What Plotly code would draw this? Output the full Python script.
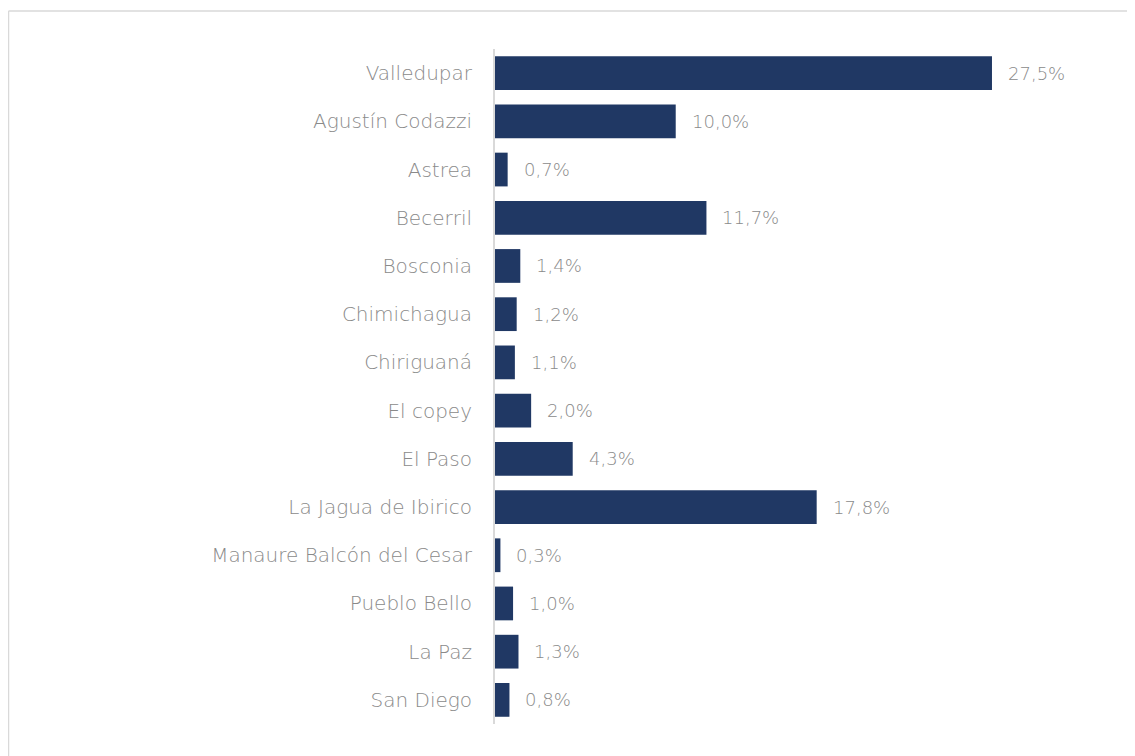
import plotly.graph_objects as go

categories = ["Valledupar", "Agustín Codazzi", "Astrea", "Becerril", "Bosconia",
              "Chimichagua", "Chiriguaná", "El copey", "El Paso", "La Jagua de Ibirico",
              "Manaure Balcón del Cesar", "Pueblo Bello", "La Paz", "San Diego"]
values = [27.5, 10.0, 0.7, 11.7, 1.4, 1.2, 1.1, 2.0, 4.3, 17.8, 0.3, 1.0, 1.3, 0.8]
value_labels = [f"{v:.1f}%".replace(".", ",") for v in values]

BAR = "#203864"
GRAY = "#8a8a8a"
FONT = "DejaVu Sans"

fig = go.Figure()
fig.add_trace(go.Bar(
    x=values, y=categories, orientation="h",
    marker=dict(color=BAR, line=dict(width=0)),
    width=0.7, hoverinfo="skip",
))

for c, v, t in zip(categories, values, value_labels):
    fig.add_annotation(x=v, y=c, text=t, showarrow=False, xanchor="left",
                       xshift=14, font=dict(family=FONT, size=18, color=GRAY, weight=200))

# figure pixel geometry (page body adds an 8px offset)
L, R, T, B = 487, 35, 41, 40
W, H = 1135, 756
pw, ph = W - L - R, H - T - B
def px(xp): return (xp - L) / pw
def py(yp): return (H - B - yp) / ph
border = dict(color="#d9d9d9", width=1.5)
# top and left edges of the outer chart frame (right/bottom lie off the page)
fig.add_shape(type="line", xref="paper", yref="paper",
              x0=px(0.5), x1=px(1400), y0=py(3), y1=py(3), line=border, layer="below")
fig.add_shape(type="line", xref="paper", yref="paper",
              x0=px(0.5), x1=px(0.5), y0=py(3), y1=py(1000), line=border, layer="below")

fig.update_layout(
    width=W, height=H,
    margin=dict(l=L, r=R, t=T, b=B),
    plot_bgcolor="white", paper_bgcolor="white",
    showlegend=False, bargap=0.3,
    font=dict(family=FONT, color=GRAY, size=20),
    xaxis=dict(range=[0, 33.92], visible=False, showgrid=False, zeroline=False),
    yaxis=dict(autorange="reversed", showgrid=False, zeroline=False,
               showline=True, linecolor="#d9d9d9", linewidth=2,
               ticks="", ticklabelstandoff=17,
               tickfont=dict(family=FONT, size=20, color=GRAY, weight=200)),
)

fig.write_html("out.html")
